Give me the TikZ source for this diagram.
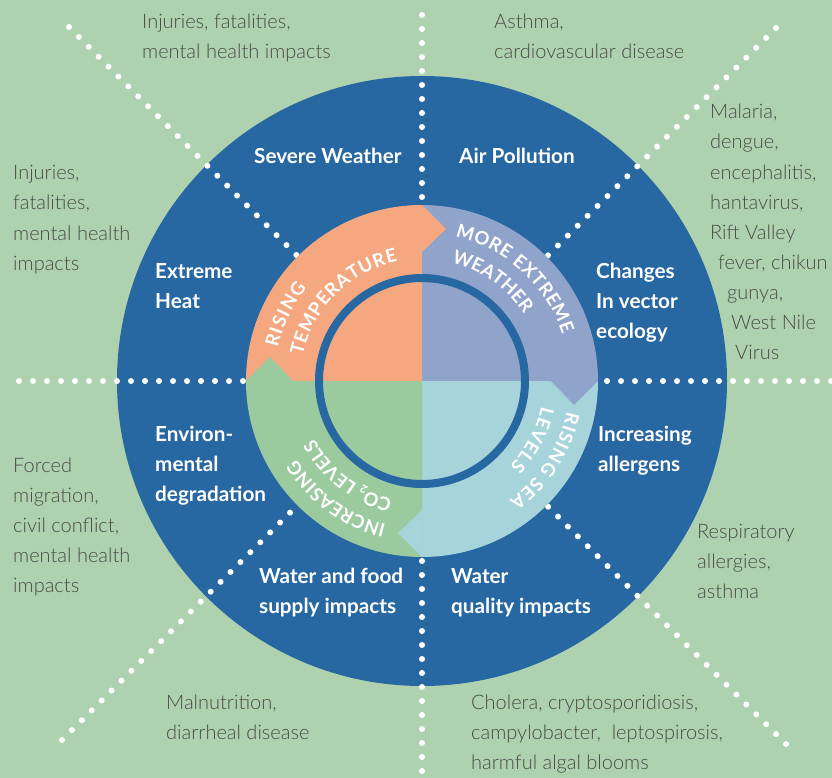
\documentclass[tikz,border=0pt]{standalone}
\usepackage{fontspec}
\setmainfont{Lato}
\newfontfamily\lightfont{Lato Light}
\usetikzlibrary{decorations.text}
\definecolor{bg}{HTML}{AED2AF}
\definecolor{dblue}{HTML}{2767A2}
\definecolor{qorange}{HTML}{F5A880}
\definecolor{qpurple}{HTML}{8FA3CB}
\definecolor{qlblue}{HTML}{A6D4DA}
\definecolor{qgreen}{HTML}{9BCA9F}
\definecolor{greytext}{HTML}{4A4A4A}
\newcommand\ringfont{\bfseries\fontsize{18.5}{18.5}\selectfont}
\newcommand\myblock[5]{\foreach \t [count=\i] in {#5} {\node[#1] (#2-\i) at (#3,{#4+30*(\i-1)}) {\t};}}
\begin{document}
\begin{tikzpicture}[x=1pt,y=-1pt,
  grey/.style={anchor=base west, inner sep=0pt, text=greytext, font=\lightfont\fontsize{20}{24}\selectfont},
  lbl/.style={anchor=base west, inner sep=0pt, text=white, font=\bfseries\fontsize{20.7}{24}\selectfont},
  dots/.style={white, line width=6pt, line cap=round, dash pattern=on 0pt off 14pt},
  ringtext/.style={decorate, decoration={text along path, text align=fit to path, text color=white, text={#1}}}]
\useasboundingbox (0,0) rectangle (832,778);
\fill[bg] (0,0) rectangle (832,778);
\coordinate (c) at (422,381);
\fill[dblue] (c) circle (305);
% dotted lines
\coordinate (vt) at (422,15);
\coordinate (vb) at (422,790);
\coordinate (hl) at (19,381);
\coordinate (hr) at (845,381);
\coordinate (dtl) at (69,27);
\coordinate (dtr) at (776,28);
\coordinate (dbr) at (786,744);
\coordinate (dbl) at (62,740);
\draw[dots] (vt) -- (vb);
\draw[dots] (hl) -- (hr);
\draw[dots] (dtl) -- (c);
\draw[dots] (dtr) -- (c);
\draw[dots] (dbr) -- (c);
\draw[dots] (dbl) -- (c);
% central disk
\begin{scope}[shift={(422pt,-381pt)}, y=1pt]
  \fill[qorange] (0,0) -- (180:176) arc (180:90:176) -- cycle;
  \fill[qpurple] (0,0) -- (90:176) arc (90:0:176) -- cycle;
  \fill[qlblue] (0,0) -- (0:176) arc (0:-90:176) -- cycle;
  \fill[qgreen] (0,0) -- (270:176) arc (270:180:176) -- cycle;
  \fill[qorange] (90:176) -- (81:154) -- (90:129) -- cycle;
  \fill[qpurple] (0:176) -- (-9:154) -- (0:129) -- cycle;
  \fill[qlblue] (270:176) -- (261:154) -- (270:129) -- cycle;
  \fill[qgreen] (180:176) -- (171:154) -- (180:129) -- cycle;
  \draw[dblue, line width=8pt] (0,0) circle (103);
  \path[ringtext={|\ringfont|RISING}] (167:148) arc (167:141:148);
  \path[ringtext={|\ringfont|TEMPERATURE}] (168:122) arc (168:101.5:122);
  \path[ringtext={|\ringfont|MORE EXTREME}] (77:148) arc (77:18.5:148);
  \path[ringtext={|\ringfont|WEATHER}] (76:122) arc (76:35:122);
  \path[ringtext={|\ringfont|RISING SEA}] (-12:148) arc (-12:-54:148);
  \path[ringtext={|\ringfont|LEVELS}] (-12:122) arc (-12:-44:122);
  \path[ringtext={|\ringfont|INCREASING}] (256:148) arc (256:212:148);
  \path[ringtext={|\ringfont|CO{\raisebox{-3pt}{\fontsize{11}{11}\selectfont 2}} LEVELS}] (256:122) arc (256:208:122);
\end{scope}
% white labels
\myblock{lbl}{sw}{254}{164}{{Severe Weather}}
\myblock{lbl}{ap}{459}{164}{{Air Pollution}}
\myblock{lbl}{eh}{155}{278}{{Extreme},{Heat}}
\myblock{lbl}{cv}{596}{278}{{Changes},{In vector},{ecology}}
\myblock{lbl}{ed}{155}{441}{{Environ-},{mental},{degradation}}
\myblock{lbl}{ia}{598}{441}{{Increasing},{allergens}}
\myblock{lbl}{wf}{259}{583}{{Water and food},{supply impacts}}
\myblock{lbl}{wq}{451}{583}{{Water},{quality impacts}}
% grey outer texts
\myblock{grey}{g1}{142}{29}{{Injuries, fatalities,},{mental health impacts}}
\myblock{grey}{g2}{494}{29}{{Asthma,},{cardiovascular disease}}
\myblock{grey}{g3}{13}{180}{{Injuries,},{fatalities,},{mental health},{impacts}}
\myblock{grey}{g4}{13}{472}{{Forced},{migration,},{civil conflict,},{mental health},{impacts}}
\myblock{grey}{g5}{697}{538}{{Respiratory},{allergies,},{asthma}}
\myblock{grey}{g6}{166}{709}{{Malnutrition,},{diarrheal disease}}
\myblock{grey}{g7}{471}{709}{{Cholera, cryptosporidiosis,},{campylobacter,\ \ leptospirosis,},{harmful algal blooms}}
\foreach \x/\t [count=\i] in {710/{Malaria,},710/{dengue,},710/{encephalitis,},710/{hantavirus,},710/{Rift Valley},718/{fever, chikun},727/{gunya,},731/{West Nile},735/{Virus}}
  {\node[grey] (g8-\i) at (\x,{119+30*(\i-1)}) {\t};}
\end{tikzpicture}
\end{document}
